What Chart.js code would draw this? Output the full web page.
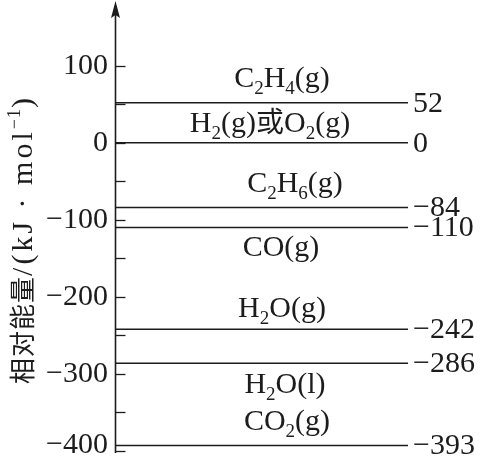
<!DOCTYPE html>
<html>
<head>
<meta charset="utf-8">
<script src="https://cdn.jsdelivr.net/npm/chart.js@4.4.0/dist/chart.umd.min.js"></script>
<style>
    html, body { margin: 0; padding: 0; background: #fff; }
</style>
</head>
<body>
<canvas id="chart" width="482" height="456"></canvas>
<script>
// 各物质的相对能量 (kJ/mol)
const levels = [52, 0, -84, -110, -242, -286, -393];
const species = ['C2H4(g)', 'H2(g)或O2(g)', 'C2H6(g)', 'CO(g)', 'H2O(g)', 'H2O(l)', 'CO2(g)'];
// 纵轴刻度
const tickValues = [100, 50, 0, -50, -100, -150, -200, -250, -300, -350, -400];
const tickLabels = ['100', '', '0', '', '−100', '', '−200', '', '−300', '', '−400'];
const yTitleMain = '相对能量';
const yTitleUnit = '/(kJ · mol';
const yTitleSup = '−1';

const ink = '#1c1c1c';
const serif = '"Liberation Serif", "Times New Roman", serif';
const cjk = '"Noto Sans CJK SC", sans-serif';

function fmt(v) {
    return v < 0 ? '−' + Math.abs(v) : String(v);
}

// 化学式: 数字作下标
function splitFormula(text) {
    const runs = [];
    for (const ch of text) {
        let kind = 'main';
        if (/\d/.test(ch)) kind = 'sub';
        else if (/[\u4e00-\u9fff]/.test(ch)) kind = 'cjk';
        const last = runs[runs.length - 1];
        if (last && last.kind === kind) last.text += ch;
        else runs.push({ kind, text: ch });
    }
    return runs;
}

const runFonts = {
    main: '30px ' + serif,
    sub: '19px ' + serif,
    cjk: '28px ' + cjk
};
const runShift = { main: 0, sub: 7, cjk: 0 };

function drawFormula(ctx, text, cx, baseline) {
    const runs = splitFormula(text);
    let total = 0;
    runs.forEach(r => {
        ctx.font = runFonts[r.kind];
        r.w = ctx.measureText(r.text).width;
        total += r.w;
    });
    let x = cx - total / 2;
    ctx.textAlign = 'left';
    ctx.textBaseline = 'alphabetic';
    runs.forEach(r => {
        ctx.font = runFonts[r.kind];
        ctx.fillText(r.text, x, baseline + runShift[r.kind]);
        x += r.w;
    });
}

const levelDecor = {
    id: 'levelDecor',
    afterDraw(chart, args, opts) {
        const { ctx, chartArea } = chart;
        const y = chart.scales.y;
        const axisX = chartArea.left - 0.5;

        ctx.save();
        ctx.strokeStyle = ink;
        ctx.fillStyle = ink;

        // 纵轴和箭头
        ctx.lineWidth = 1.6;
        ctx.beginPath();
        ctx.moveTo(axisX, y.getPixelForValue(-400) + 2);
        ctx.lineTo(axisX, 14);
        ctx.stroke();
        ctx.beginPath();
        ctx.moveTo(axisX, 1);
        ctx.lineTo(axisX - 4.5, 18);
        ctx.lineTo(axisX, 15);
        ctx.lineTo(axisX + 4.5, 18);
        ctx.closePath();
        ctx.fill();

        // 刻度线 (向内)
        ctx.lineWidth = 1.3;
        tickValues.forEach(v => {
            const py = Math.round(y.getPixelForValue(v)) + 0.5;
            ctx.beginPath();
            ctx.moveTo(axisX, py);
            ctx.lineTo(axisX + 10, py);
            ctx.stroke();
        });

        // -400 标签 (略向上)
        const lastIdx = tickValues.length - 1;
        ctx.font = '30px ' + serif;
        ctx.textAlign = 'right';
        ctx.textBaseline = 'middle';
        ctx.fillText(tickLabels[lastIdx], chartArea.left - 8, y.getPixelForValue(tickValues[lastIdx]) - 6);

        // 能级右侧数值
        ctx.textAlign = 'left';
        levels.forEach(v => {
            ctx.fillText(fmt(v), chartArea.right + 5, y.getPixelForValue(v) + 1);
        });

        // 物质名称
        species.forEach((name, i) => {
            const py = y.getPixelForValue(levels[i]);
            drawFormula(ctx, name, opts.centers[i], py + opts.baselineShift[i]);
        });

        // 纵轴标题
        ctx.translate(32, 241);
        ctx.rotate(-Math.PI / 2);
        const parts = [
            { t: yTitleMain, f: '26px ' + cjk, dy: 0, ls: 1 },
            { t: yTitleUnit, f: '30px ' + serif, dy: 0, ls: 3 },
            { t: yTitleSup, f: '18px ' + serif, dy: -12, ls: 1 },
            { t: ')', f: '30px ' + serif, dy: 0, ls: 0 }
        ];
        let total = 0;
        parts.forEach(p => {
            ctx.font = p.f;
            ctx.letterSpacing = p.ls + 'px';
            p.w = ctx.measureText(p.t).width;
            total += p.w;
        });
        let x = -total / 2;
        ctx.textAlign = 'left';
        ctx.textBaseline = 'alphabetic';
        parts.forEach(p => {
            ctx.font = p.f;
            ctx.letterSpacing = p.ls + 'px';
            ctx.fillText(p.t, x, p.dy);
            x += p.w;
        });
        ctx.letterSpacing = '0px';
        ctx.restore();
    }
};

const datasets = levels.map((v, i) => ({
    label: species[i],
    data: [{ x: 0, y: v }, { x: 1, y: v }],
    borderColor: ink,
    borderWidth: 1.5,
    pointRadius: 0,
    fill: false
}));

new Chart(document.getElementById('chart'), {
    type: 'line',
    data: { datasets },
    options: {
        responsive: false,
        animation: false,
        events: [],
        layout: {
            padding: { top: 4, bottom: 5, left: 0, right: 74 }
        },
        plugins: {
            legend: { display: false },
            tooltip: { enabled: false },
            levelDecor: {
                centers: [282, 270, 295, 281, 282, 285, 287],
                baselineShift: [-16, -11, -15, 28, -12, 30, -16]
            }
        },
        scales: {
            x: {
                type: 'linear',
                min: 0,
                max: 1,
                display: false
            },
            y: {
                type: 'linear',
                min: -400,
                max: 180,
                afterBuildTicks: scale => {
                    scale.ticks = tickValues.map(v => ({ value: v }));
                },
                afterFit: scale => {
                    scale.width = 116;
                    scale.paddingTop = 0;
                    scale.paddingBottom = 0;
                },
                grid: { display: false, drawTicks: false },
                border: { display: false },
                ticks: {
                    padding: 8,
                    color: ink,
                    font: { family: 'Liberation Serif', size: 30 },
                    callback: (value, index) => index === tickValues.length - 1 ? '' : tickLabels[index]
                }
            }
        }
    },
    plugins: [levelDecor]
});
</script>
</body>
</html>
